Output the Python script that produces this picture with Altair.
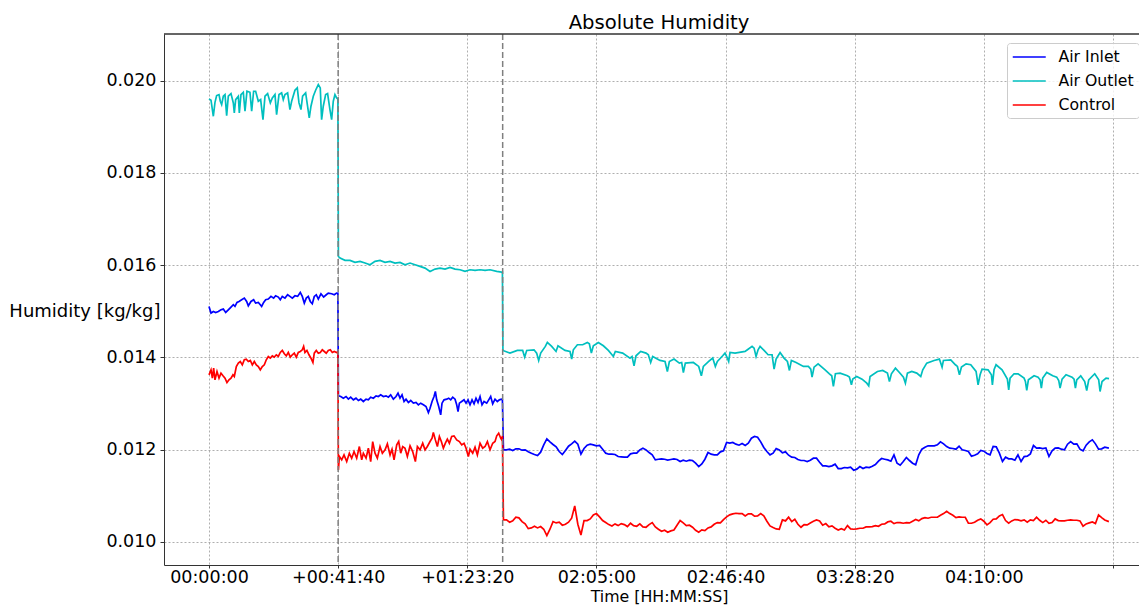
import altair as alt
import pandas as pd

FONT = "DejaVu Sans"
SERIES = ["Air Inlet", "Air Outlet", "Control"]
COLORS = ["#0000ff", "#00bfbf", "#ff0000"]
EVENT_TIMES = [2500, 5685]
X_TICKS = [0, 2500, 5000, 7500, 10000, 12500, 15000, 17500]
X_TICK_LABELS = ["00:00:00", "+00:41:40", "+01:23:20", "02:05:00", "02:46:40",
                 "03:28:20", "04:10:00", ""]
Y_TICKS = [0.010, 0.012, 0.014, 0.016, 0.018, 0.020]

# times in seconds from start, humidity readings in g/kg
# ---------------- Air Inlet ----------------
INLET_T1 = [0, 39, 84, 129, 181, 232, 277, 323, 374, 426, 471, 503, 542, 581, 632, 684, 729, 761, 813, 864,
            903, 955, 993, 1019, 1058, 1097, 1148, 1200, 1251, 1290, 1342, 1380, 1419, 1471, 1522, 1567, 1613,
            1664, 1716, 1767, 1806, 1845, 1883, 1922, 1961, 2000, 2038, 2077, 2116, 2167, 2219, 2270, 2309,
            2374, 2425, 2470, 2495]
INLET_V1 = [15.105, 14.960, 14.996, 14.974, 14.996, 15.032, 15.047, 14.974, 15.032, 15.090, 15.141, 15.105,
            15.191, 15.213, 15.249, 15.285, 15.213, 15.119, 15.213, 15.249, 15.177, 15.191, 15.141, 15.105,
            15.191, 15.249, 15.264, 15.322, 15.285, 15.336, 15.307, 15.249, 15.322, 15.285, 15.358, 15.322,
            15.285, 15.336, 15.322, 15.408, 15.322, 15.177, 15.285, 15.322, 15.213, 15.162, 15.322, 15.358,
            15.264, 15.379, 15.307, 15.358, 15.394, 15.379, 15.358, 15.394, 15.39]
INLET_T2 = [2505, 2550, 2601, 2653, 2698, 2743, 2795, 2846, 2892, 2937, 2988, 3040, 3085, 3130, 3182, 3234,
            3279, 3324, 3375, 3427, 3472, 3517, 3569, 3621, 3659, 3698, 3737, 3776, 3814, 3860, 3905, 3956,
            4008, 4053, 4098, 4150, 4201, 4247, 4279, 4318, 4356, 4382, 4408, 4447, 4485, 4511, 4550, 4602,
            4640, 4679, 4718, 4763, 4795, 4821, 4847, 4892, 4937, 4976, 5015, 5053, 5092, 5131, 5169, 5208,
            5247, 5285, 5324, 5376, 5415, 5453, 5492, 5537, 5582, 5621, 5660, 5680]
INLET_V2 = [13.17, 13.152, 13.116, 13.152, 13.095, 13.138, 13.080, 13.116, 13.066, 13.095, 13.044, 13.095,
            13.080, 13.138, 13.116, 13.167, 13.152, 13.189, 13.152, 13.167, 13.138, 13.189, 13.095, 13.152,
            13.225, 13.116, 13.189, 13.044, 13.095, 13.022, 13.066, 13.008, 13.022, 12.972, 13.008, 12.972,
            12.936, 12.805, 12.899, 13.044, 13.152, 13.261, 13.080, 12.936, 12.755, 13.008, 13.080, 13.095,
            13.116, 13.080, 13.138, 13.095, 12.972, 12.827, 13.008, 13.044, 13.080, 13.008, 13.080, 12.972,
            13.080, 12.993, 13.116, 13.022, 13.152, 12.972, 13.044, 13.008, 13.080, 13.152, 12.993, 13.095,
            13.044, 13.080, 13.095, 13.08]
# third period: readings every 120 s from 5700 s, plus readings half-way between them
SEG3_T = list(range(5700, 17341, 120))
SEG3_MID_T = list(range(5760, 17281, 120))
INLET_V3 = [11.996, 12.010, 12.018, 11.989, 11.953, 11.895, 11.945, 12.235, 12.112, 11.960,
            11.981, 12.126, 12.119, 12.025, 12.119, 12.083, 12.010, 11.902, 11.895, 11.844,
            11.837, 11.924, 11.996, 11.996, 11.888, 11.793, 11.793, 11.786, 11.786, 11.772,
            11.772, 11.707, 11.692, 11.938, 11.888, 11.953, 12.155, 12.155, 12.097, 12.090,
            12.249, 12.271, 12.047, 11.888, 12.025, 11.931, 11.880, 11.830, 11.765, 11.743,
            11.815, 11.728, 11.649, 11.649, 11.591, 11.613, 11.620, 11.577, 11.591, 11.613,
            11.678, 11.808, 11.779, 11.888, 11.663, 11.830, 11.707, 11.888, 12.054, 12.083,
            12.104, 12.126, 12.032, 12.010, 11.996, 11.960, 11.880, 11.982, 11.917, 12.068,
            11.924, 11.837, 11.801, 11.888, 11.851, 11.909, 12.032, 12.025, 11.851, 12.032,
            12.010, 12.119, 12.119, 12.010, 12.097, 12.213, 12.010, 12.054]
INLET_V3_MID = [11.996, 11.982, 12.018, 11.996, 11.924, 11.873, 12.104, 12.170, 12.061, 11.895,
                12.075, 12.184, 11.902, 12.097, 12.104, 12.090, 11.924, 11.902, 11.851, 11.837,
                11.909, 11.924, 12.032, 11.938, 11.779, 11.801, 11.772, 11.801, 11.743, 11.750,
                11.765, 11.634, 11.793, 11.902, 11.888, 11.975, 12.141, 12.119, 12.133, 12.141,
                12.285, 12.170, 11.960, 11.924, 11.996, 11.953, 11.837, 11.786, 11.765, 11.772,
                11.815, 11.649, 11.634, 11.685, 11.591, 11.605, 11.555, 11.634, 11.620, 11.642,
                11.750, 11.793, 11.750, 11.707, 11.743, 11.765, 11.671, 12.010, 12.083, 12.083,
                12.170, 12.068, 12.025, 12.075, 11.982, 11.859, 11.909, 11.967, 11.888, 12.061,
                11.743, 11.801, 11.772, 11.743, 11.859, 12.090, 12.039, 12.039, 11.975, 12.039,
                11.996, 12.177, 12.126, 11.975, 12.170, 12.126, 12.018]
INLET_END_T = [17420]
INLET_END_V = [12.032]

# ---------------- Air Outlet ----------------
OUTLET_T1 = [0, 39, 84, 116, 148, 194, 219, 245, 277, 310, 342, 374, 426, 471, 490, 516, 568, 587, 619, 664,
             697, 735, 793, 826, 864, 903, 955, 1000, 1045, 1084, 1135, 1187, 1226, 1277, 1309, 1355, 1406,
             1438, 1471, 1522, 1567, 1600, 1664, 1709, 1742, 1780, 1812, 1871, 1941, 1974, 2019, 2064, 2116,
             2154, 2180, 2212, 2258, 2296, 2341, 2374, 2406, 2438, 2471, 2495]
OUTLET_V1 = [19.603, 19.574, 19.227, 19.530, 19.675, 19.697, 19.552, 19.480, 19.661, 19.697, 19.241, 19.661,
             19.718, 19.516, 19.299, 19.588, 19.661, 19.299, 19.697, 19.747, 19.335, 19.769, 19.747, 19.335,
             19.769, 19.769, 19.552, 19.588, 19.154, 19.661, 19.718, 19.516, 19.624, 19.697, 19.263, 19.697,
             19.733, 19.588, 19.697, 19.733, 19.371, 19.552, 19.791, 19.841, 19.516, 19.371, 19.661, 19.733,
             19.191, 19.444, 19.661, 19.791, 19.913, 19.841, 19.154, 19.444, 19.697, 19.718, 19.371, 19.154,
             19.552, 19.697, 19.624, 19.60]
OUTLET_T2 = [2505, 2537, 2633, 2730, 2827, 2924, 3021, 3117, 3214, 3311, 3408, 3505, 3601, 3698, 3795, 3892,
             3989, 4085, 4182, 4279, 4376, 4472, 4569, 4666, 4763, 4860, 4956, 5053, 5150, 5247, 5344, 5440,
             5570, 5666, 5680]
OUTLET_V2 = [16.189, 16.153, 16.103, 16.103, 16.059, 16.081, 16.045, 16.009, 16.081, 16.103, 16.059, 16.081,
             16.045, 16.059, 16.009, 16.045, 16.009, 15.973, 15.936, 15.864, 15.915, 15.936, 15.915, 15.951,
             15.915, 15.900, 15.864, 15.900, 15.886, 15.900, 15.886, 15.900, 15.864, 15.850, 15.85]
OUTLET_T3 = [5690, 5827, 5969, 6072, 6111, 6150, 6292, 6343, 6382, 6421, 6511, 6550, 6634, 6718, 6756, 6892,
             6989, 7021, 7053, 7131, 7234, 7324, 7363, 7402, 7440, 7537, 7634, 7731, 7828, 7866, 8008, 8150,
             8189, 8228, 8266, 8357, 8460, 8505, 8550, 8589, 8731, 8828, 8873, 8912, 9002, 9105, 9150, 9183,
             9221, 9376, 9480, 9531, 9570, 9673, 9751, 9802, 9841, 9944, 9989, 10035, 10060, 10086, 10183,
             10377, 10423, 10513, 10552, 10590, 10629, 10668, 10745, 10823, 10900, 10939, 10978, 11055, 11132,
             11197, 11236, 11274, 11365, 11507, 11603, 11649, 11674, 11713, 11791, 11926, 12010, 12055, 12087,
             12126, 12217, 12359, 12397, 12436, 12462, 12539, 12642, 12733, 12771, 12797, 12939, 13042, 13133,
             13172, 13210, 13288, 13365, 13443, 13481, 13520, 13604, 13701, 13778, 13817, 13894, 14036, 14139,
             14191, 14217, 14359, 14449, 14488, 14527, 14566, 14656, 14746, 14849, 14888, 14927,
             14965, 15081, 15146, 15165, 15197, 15236, 15352, 15455, 15481, 15507, 15584, 15662, 15778, 15804,
             15830, 15862, 15972, 16049, 16088, 16113, 16139, 16217, 16333, 16410, 16449, 16475, 16514, 16591,
             16707, 16746, 16772, 16798, 16875, 16952, 16991, 17030, 17146, 17223, 17249, 17288, 17365, 17423]
OUTLET_V3 = [14.151, 14.093, 14.151, 14.151, 14.006, 14.151, 14.165, 14.093, 13.934, 14.093, 14.238, 14.324,
             14.238, 14.129, 14.252, 14.151, 14.129, 13.963, 14.165, 14.274, 14.274, 14.324, 14.295, 14.093,
             14.252, 14.324, 14.252, 14.151, 14.021, 14.129, 14.093, 13.985, 14.021, 13.818, 14.035, 14.129,
             14.093, 14.057, 13.890, 14.021, 13.934, 13.912, 13.695, 13.912, 13.963, 13.876, 13.890, 13.673,
             13.876, 13.890, 13.804, 13.601, 13.804, 13.912, 13.985, 13.804, 13.912, 14.035, 14.093, 13.985,
             13.912, 14.107, 14.093,
             14.129, 14.165, 14.238, 14.201, 14.021, 14.165, 14.238, 14.151, 14.057, 14.057, 13.746, 13.963,
             14.107, 13.985, 13.912, 13.717, 13.934, 13.890, 13.804, 13.804, 13.746, 13.572, 13.789, 13.861,
             13.731, 13.645, 13.601, 13.370, 13.645, 13.659, 13.601, 13.572, 13.406, 13.529, 13.587, 13.529,
             13.442, 13.384, 13.587, 13.695, 13.717, 13.659, 13.478, 13.645, 13.767, 13.673, 13.572, 13.442,
             13.659, 13.695, 13.659, 13.587, 13.731, 13.876, 13.934, 13.963, 13.789, 13.934, 13.948, 13.840,
             13.804, 13.623, 13.789, 13.861, 13.840, 13.695, 13.406, 13.623,
             13.746, 13.731, 13.623, 13.406, 13.731, 13.840, 13.731, 13.529, 13.298, 13.551, 13.645, 13.645,
             13.551, 13.478, 13.283, 13.514, 13.601, 13.572, 13.514, 13.334, 13.551, 13.673, 13.601, 13.572,
             13.500, 13.334, 13.529, 13.623, 13.572, 13.529, 13.334, 13.514, 13.601, 13.478, 13.283, 13.514,
             13.645, 13.514, 13.261, 13.478, 13.551, 13.539]

# ---------------- Control ----------------
CONTROL_T1 = [0, 39, 65, 90, 116, 155, 194, 232, 271, 310, 348, 387, 426, 464, 490, 529, 568, 606, 645, 684,
              722, 761, 800, 839, 877, 916, 955, 993, 1032, 1071, 1109, 1148, 1187, 1226, 1264, 1303, 1342,
              1380, 1419, 1458, 1496, 1535, 1574, 1613, 1651, 1690, 1729, 1767, 1806, 1832, 1858, 1896, 1935,
              1974, 2012, 2038, 2077, 2116, 2154, 2193, 2232, 2270, 2309, 2348, 2387, 2425, 2470, 2495]
CONTROL_V1 = [13.622, 13.731, 13.550, 13.767, 13.514, 13.695, 13.550, 13.658, 13.601, 13.550, 13.456, 13.514,
              13.550, 13.622, 13.586, 13.803, 13.875, 13.911, 13.839, 13.948, 13.962, 13.911, 13.933, 13.839,
              13.911, 13.839, 13.803, 13.731, 13.803, 13.839, 13.948, 14.020, 13.984, 14.034, 14.005, 14.056,
              14.020, 14.107, 14.150, 14.078, 14.034, 14.107, 14.005, 14.056, 14.092, 14.005, 14.107, 14.128,
              14.165, 14.237, 14.107, 14.150, 14.056, 13.984, 13.890, 14.092, 14.150, 14.092, 14.107, 14.165,
              14.128, 14.092, 14.150, 14.165, 14.107, 14.128, 14.107, 14.12]
CONTROL_T2 = [2505, 2524, 2569, 2614, 2666, 2717, 2762, 2808, 2859, 2911, 2956, 2988, 3040, 3085, 3130, 3169,
              3214, 3259, 3311, 3356, 3408, 3453, 3505, 3543, 3582, 3634, 3672, 3711, 3750, 3795, 3840, 3892,
              3943, 3995, 4034, 4085, 4137, 4182, 4227, 4279, 4318, 4343, 4382, 4421, 4460, 4498, 4537, 4576,
              4614, 4653, 4698, 4743, 4795, 4847, 4892, 4937, 4976, 5021, 5053, 5105, 5150, 5195, 5247, 5298,
              5344, 5389, 5440, 5492, 5537, 5570, 5608, 5647, 5666, 5680]
CONTROL_V2 = [11.562, 11.851, 11.779, 11.887, 11.742, 11.923, 11.815, 11.959, 11.815, 12.068, 11.779, 11.923,
              11.815, 12.032, 11.742, 12.176, 11.923, 11.815, 12.068, 11.923, 11.996, 12.126, 11.887, 12.010,
              11.779, 12.104, 12.176, 11.923, 12.068, 12.032, 11.851, 12.082, 11.959, 11.742, 12.068, 11.996,
              12.140, 11.996, 12.068, 12.176, 12.248, 12.372, 12.212, 12.068, 12.285, 12.176, 12.032, 12.140,
              12.227, 12.140, 12.285, 12.299, 12.212, 12.176, 12.104, 12.140, 12.032, 11.851, 12.010, 11.923,
              12.053, 11.887, 12.140, 12.032, 12.068, 12.176, 11.996, 12.140, 12.176, 12.299, 12.357, 12.248,
              12.212, 12.30]
CONTROL_V3 = [10.477, 10.427, 10.535, 10.441, 10.289, 10.340, 10.333, 10.137, 10.441, 10.427,
              10.383, 10.514, 10.383, 10.463, 10.499, 10.615, 10.463, 10.376, 10.391, 10.398,
              10.333, 10.354, 10.391, 10.318, 10.420, 10.275, 10.253, 10.239, 10.362, 10.412,
              10.362, 10.253, 10.260, 10.304, 10.383, 10.412, 10.543, 10.608, 10.615, 10.565,
              10.608, 10.565, 10.565, 10.347, 10.282, 10.477, 10.535, 10.492, 10.318, 10.369,
              10.449, 10.456, 10.398, 10.347, 10.260, 10.260, 10.282, 10.282, 10.297, 10.326,
              10.354, 10.383, 10.434, 10.398, 10.420, 10.420, 10.449, 10.456, 10.528, 10.535,
              10.535, 10.615, 10.615, 10.528, 10.535, 10.405, 10.427, 10.499, 10.369, 10.492,
              10.565, 10.463, 10.456, 10.477, 10.477, 10.477, 10.535, 10.420, 10.405, 10.499,
              10.456, 10.470, 10.470, 10.456, 10.391, 10.434, 10.586, 10.477]
CONTROL_V3_MID = [10.477, 10.456, 10.521, 10.391, 10.304, 10.304, 10.275, 10.275, 10.412, 10.362,
                  10.427, 10.781, 10.150, 10.463, 10.586, 10.543, 10.420, 10.347, 10.354, 10.376,
                  10.405, 10.340, 10.326, 10.376, 10.326, 10.232, 10.210, 10.260, 10.463, 10.354,
                  10.318, 10.210, 10.246, 10.326, 10.420, 10.485, 10.586, 10.622, 10.615, 10.608,
                  10.557, 10.615, 10.449, 10.311, 10.275, 10.456, 10.441, 10.383, 10.376, 10.412,
                  10.477, 10.362, 10.326, 10.297, 10.289, 10.354, 10.275, 10.297, 10.326, 10.333,
                  10.340, 10.391, 10.449, 10.420, 10.405, 10.412, 10.485, 10.506, 10.514, 10.535,
                  10.579, 10.666, 10.579, 10.543, 10.535, 10.405, 10.470, 10.449, 10.420, 10.499,
                  10.593, 10.405, 10.485, 10.456, 10.427, 10.463, 10.470, 10.470, 10.420, 10.463,
                  10.456, 10.477, 10.470, 10.340, 10.412, 10.398, 10.528]
CONTROL_END_T = [17420]
CONTROL_END_V = [10.441]

rows = []


def add(name, ts, vs):
    for t, v in zip(ts, vs):
        rows.append({"series": name, "t": t, "h": v / 1000.0})  # g/kg -> kg/kg


add("Air Inlet", INLET_T1, INLET_V1)
add("Air Inlet", INLET_T2, INLET_V2)
add("Air Inlet", SEG3_T, INLET_V3)
add("Air Inlet", SEG3_MID_T, INLET_V3_MID)
add("Air Inlet", INLET_END_T, INLET_END_V)
add("Air Outlet", OUTLET_T1, OUTLET_V1)
add("Air Outlet", OUTLET_T2, OUTLET_V2)
add("Air Outlet", OUTLET_T3, OUTLET_V3)
add("Control", CONTROL_T1, CONTROL_V1)
add("Control", CONTROL_T2, CONTROL_V2)
add("Control", SEG3_T, CONTROL_V3)
add("Control", SEG3_MID_T, CONTROL_V3_MID)
add("Control", CONTROL_END_T, CONTROL_END_V)

df = pd.DataFrame(rows).sort_values(["series", "t"]).reset_index(drop=True)
events = pd.DataFrame({"t": EVENT_TIMES})

label_expr = "''"
for val, lab in reversed(list(zip(X_TICKS, X_TICK_LABELS))):
    label_expr = f"datum.value == {val} ? '{lab}' : ({label_expr})"

PLOT_W = 975
PLOT_H = 531
x_scale = alt.Scale(domain=[-871, 18003], nice=False, zero=False)
y_scale = alt.Scale(domain=[0.0095, 0.02101], nice=False, zero=False)

lines = alt.Chart(df).mark_line(strokeWidth=1.7).encode(
    x=alt.X("t:Q", scale=x_scale,
            axis=alt.Axis(values=X_TICKS, labelExpr=label_expr, title="Time [HH:MM:SS]",
                          labelOverlap=False, labelFlush=False, tickSize=3, labelPadding=0,
                          titleX=495, titleAlign="center", titleFontSize=15.8,
                          titleY=36, titleBaseline="alphabetic")),
    y=alt.Y("h:Q", scale=y_scale,
            axis=alt.Axis(values=Y_TICKS, format=".3f", title="Humidity [kg/kg]",
                          titleAngle=0, titleAlign="right", titleBaseline="middle",
                          titleX=-4, titleY=277, labelPadding=4)),
    color=alt.Color("series:N", scale=alt.Scale(domain=SERIES, range=COLORS),
                    legend=alt.Legend(title=None, orient="none", legendX=843, legendY=9,
                                      symbolType="M-1,0L3,0", symbolSize=272, symbolStrokeWidth=1.5,
                                      labelFontSize=15.7, labelFont=FONT, labelColor="black",
                                      labelOffset=28.5, padding=5, rowPadding=7,
                                      strokeColor="#cccccc", cornerRadius=3,
                                      fillColor="rgba(255,255,255,0.8)")),
    order="t:Q",
)

rules = alt.Chart(events).mark_rule(color="#7f7f7f", strokeDash=[6, 3], strokeWidth=1.5).encode(
    x=alt.X("t:Q", scale=x_scale)
)

# top edge of the frame (right edge lies beyond the picture)
top_edge = alt.Chart(events).mark_rule(color="#333333", strokeWidth=1).encode(
    x=alt.value(0), x2=alt.value(PLOT_W), y=alt.value(0)
)

chart = alt.layer(lines, rules, top_edge).properties(
    width=PLOT_W,
    height=PLOT_H,
    padding={"left": 156, "top": 26, "right": 0, "bottom": 40},
    autosize=alt.AutoSizeParams(type="none"),
    title=alt.Title("Absolute Humidity", fontSize=19.6, font=FONT, fontWeight="normal",
                    anchor="middle", offset=0, dx=7.5, color="black"),
).configure_view(
    stroke=None
).configure_axis(
    labelFont=FONT, titleFont=FONT, labelFontSize=17.5, titleFontSize=18,
    labelColor="black", titleColor="black", titleFontWeight="normal",
    domainColor="#333333", tickColor="#333333", tickSize=4, labelPadding=3,
    grid=True, gridColor="#9a9a9a", gridDash=[2, 2], gridWidth=0.8,
)

chart.save("out.html", embed_options={"renderer": "svg", "actions": False})
